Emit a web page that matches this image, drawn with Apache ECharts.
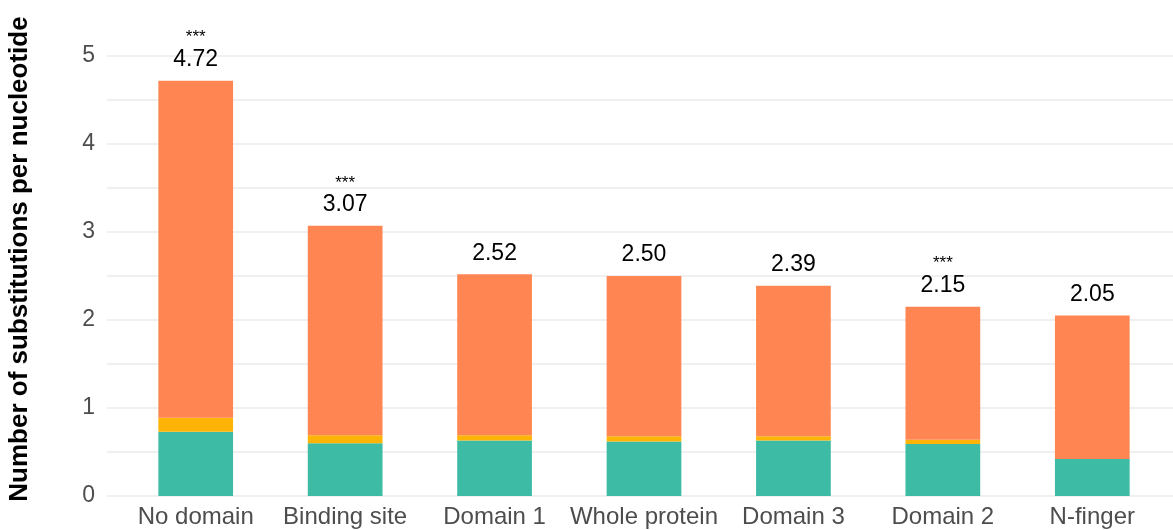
<!DOCTYPE html>
<html>
<head>
<meta charset="utf-8">
<script src="https://cdn.jsdelivr.net/npm/echarts@6/dist/echarts.min.js"></script>
<style>
  html, body { margin: 0; padding: 0; background: #fff; }
  #chart { width: 1173px; height: 530px; }
</style>
</head>
<body>
<div id="chart"></div>
<script>
// Substitution rates per region, split into three components
const categories = ['No domain', 'Binding site', 'Domain 1', 'Whole protein', 'Domain 3', 'Domain 2', 'N-finger'];
const totals = [4.72, 3.07, 2.52, 2.50, 2.39, 2.15, 2.05];
const baseComponent = [0.73, 0.60, 0.63, 0.62, 0.63, 0.59, 0.42];
const middleComponent = [0.16, 0.09, 0.06, 0.06, 0.05, 0.05, 0.00];
const significance = ['***', '***', '', '', '', '***', ''];
const yTicks = [0, 1, 2, 3, 4, 5];

const topComponent = totals.map((t, i) => +(t - baseComponent[i] - middleComponent[i]).toFixed(3));

const FONT = '"Liberation Sans", Arial, Helvetica, sans-serif';

const chart = echarts.init(document.getElementById('chart'));
chart.setOption({
  backgroundColor: '#ffffff',
  animation: false,
  textStyle: { fontFamily: FONT },
  grid: [
    { left: 107, right: 0, top: 56, bottom: 34 },
    { left: 121, right: 6, top: 56, bottom: 34 }
  ],
  xAxis: [
    { gridIndex: 0, type: 'value', min: 0, max: 1, show: false },
    {
      gridIndex: 1, type: 'category', data: categories,
      axisLine: { show: false }, axisTick: { show: false },
      axisLabel: { color: '#4d4d4d', fontSize: 24, margin: 9, fontFamily: FONT, interval: 0 }
    }
  ],
  yAxis: [
    {
      gridIndex: 0, type: 'value', min: 0, max: 5, interval: 0.5,
      axisLine: { show: false }, axisTick: { show: false },
      splitLine: { lineStyle: { color: '#ebebeb', width: 1.5 } },
      axisLabel: {
        color: '#4d4d4d', fontSize: 23, margin: 12, fontFamily: FONT,
        formatter: v => (yTicks.indexOf(v) >= 0 ? String(v) : '')
      }
    },
    { gridIndex: 1, type: 'value', min: 0, max: 5, show: false }
  ],
  graphic: [{
    type: 'text',
    x: 20, y: 259, rotation: Math.PI / 2,
    style: {
      text: 'Number of substitutions per nucleotide',
      fontFamily: FONT, fontSize: 26, fontWeight: 'bold', fill: '#000',
      textAlign: 'center', textVerticalAlign: 'middle'
    }
  }],
  series: [
    {
      type: 'bar', xAxisIndex: 1, yAxisIndex: 1, stack: 'rate', barWidth: '50%',
      data: baseComponent, itemStyle: { color: '#3dbba4' }
    },
    {
      type: 'bar', xAxisIndex: 1, yAxisIndex: 1, stack: 'rate', barWidth: '50%',
      data: middleComponent, itemStyle: { color: '#fdb406' }
    },
    {
      type: 'bar', xAxisIndex: 1, yAxisIndex: 1, stack: 'rate', barWidth: '50%',
      data: topComponent, itemStyle: { color: '#ff8652' },
      label: {
        show: true, position: 'top', distance: 8,
        formatter: p => {
          const v = totals[p.dataIndex].toFixed(2);
          const s = significance[p.dataIndex];
          return s ? '{s|' + s + '}\n{v|' + v + '}' : '{v|' + v + '}';
        },
        rich: {
          s: { fontSize: 17, color: '#000', fontFamily: FONT, lineHeight: 18 },
          v: { fontSize: 23, color: '#000', fontFamily: FONT, lineHeight: 26 }
        }
      }
    }
  ]
});
</script>
</body>
</html>
